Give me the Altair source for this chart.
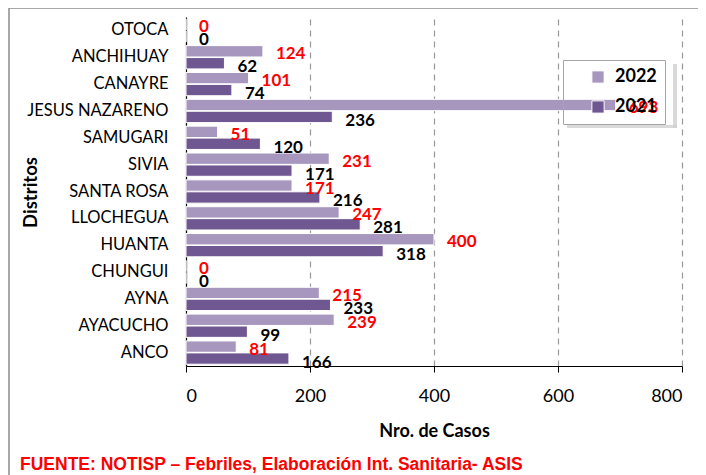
import altair as alt
import pandas as pd

districts = ["OTOCA", "ANCHIHUAY", "CANAYRE", "JESUS NAZARENO", "SAMUGARI", "SIVIA",
             "SANTA ROSA", "LLOCHEGUA", "HUANTA", "CHUNGUI", "AYNA", "AYACUCHO", "ANCO"]
cases_2022 = [0, 124, 101, 693, 51, 231, 171, 247, 400, 0, 215, 239, 81]
cases_2021 = [0, 62, 74, 236, 120, 171, 216, 281, 318, 0, 233, 99, 166]
years = ["2022", "2021"]
x_ticks = [0, 200, 400, 600, 800]

rows = []
for d, a, b in zip(districts, cases_2022, cases_2021):
    rows.append({"distrito": d, "year": "2022", "casos": a})
    rows.append({"distrito": d, "year": "2021", "casos": b})
df = pd.DataFrame(rows)

LIGHT = "#a797be"
DARK = "#6f5791"
W, H = 496, 349

y_enc = alt.Y("distrito:N", sort=districts,
              scale=alt.Scale(domain=districts, paddingInner=0, paddingOuter=0),
              axis=alt.Axis(title="Distritos", labelFont="Lato", labelFontSize=16.5,
                            labelColor="#000000", labelPadding=18, ticks=False,
                            domainColor="#000000", domainWidth=1.2, grid=False,
                            titleFont="Lato", titleFontSize=18.5, titleFontWeight="bold",
                            titleColor="#000000", titleAngle=270, titleX=-156, titleY=175,
                            titleAlign="center", titleBaseline="middle"))
yoff = alt.YOffset("year:N", sort=years,
                   scale=alt.Scale(domain=years, paddingOuter=0.15, paddingInner=0.05))
x_enc = alt.X("casos:Q",
              scale=alt.Scale(domain=[0, 800], nice=False),
              axis=alt.Axis(title="Nro. de Casos", values=x_ticks, labelFont="Lato",
                            labelFontSize=18, labelColor="#000000", labelPadding=15,
                            tickSize=6, tickColor="#000000", domainColor="#000000",
                            domainWidth=1.2, grid=True, gridColor="#999999",
                            gridDash=[6, 5], gridWidth=1.2,
                            titleFont="Lato", titleFontSize=18, titleFontWeight="bold",
                            titleColor="#000000", titleY=65, titleBaseline="middle"))

bars = alt.Chart(df).mark_bar(stroke="white", strokeWidth=1).encode(
    x=x_enc,
    y=y_enc,
    yOffset=yoff,
    color=alt.Color("year:N", sort=years,
                    scale=alt.Scale(domain=years, range=[LIGHT, DARK]),
                    legend=alt.Legend(title=None, orient="none", legendX=377, legendY=43,
                                      direction="vertical", padding=8, symbolOffset=18,
                                      symbolType="square", symbolSize=150,
                                      symbolStrokeColor="white", symbolStrokeWidth=1,
                                      labelFont="Lato", labelFontSize=18,
                                      labelFontWeight="bold", labelColor="#000000",
                                      labelOffset=8, rowPadding=12,
                                      strokeColor="#a6a6a6",
                                      labelExpr="datum.label + '     '")),
)

lab22 = alt.Chart(df).transform_filter(alt.datum.year == "2022").mark_text(
    align="left", baseline="middle", dx=13, dy=3, font="Lato", fontSize=17,
    fontWeight="bold", color="#ff0000"
).encode(x="casos:Q", y=alt.Y("distrito:N", sort=districts), yOffset=yoff,
         text="casos:Q")

lab21 = alt.Chart(df).transform_filter(alt.datum.year == "2021").mark_text(
    align="left", baseline="middle", dx=13, dy=4, font="Lato", fontSize=17,
    fontWeight="bold", color="#000000"
).encode(x="casos:Q", y=alt.Y("distrito:N", sort=districts), yOffset=yoff,
         text="casos:Q")

deco = pd.DataFrame([{"t": "FUENTE:  NOTISP – Febriles, Elaboración Int. Sanitaria- ASIS"}])
border = alt.Chart(deco).mark_rect(fillOpacity=0, stroke="#8c8c8c", strokeWidth=1.5).encode(
    x=alt.value(-177), x2=alt.value(700), y=alt.value(-9), y2=alt.value(600))
shadow_r = alt.Chart(deco).mark_rect(fill="#cfcfcf", opacity=0.8).encode(
    x=alt.value(487), x2=alt.value(491), y=alt.value(47), y2=alt.value(111))
shadow_b = alt.Chart(deco).mark_rect(fill="#cfcfcf", opacity=0.8).encode(
    x=alt.value(381), x2=alt.value(491), y=alt.value(108), y2=alt.value(111))
footer = alt.Chart(deco).mark_text(
    align="left", baseline="middle", font="Liberation Sans", fontSize=17.5,
    fontWeight="bold", color="#ff0000"
).encode(x=alt.value(-166), y=alt.value(448), text="t:N")

chart = alt.layer(border, shadow_r, shadow_b, bars, lab22, lab21, footer).properties(
    width=W, height=H,
    autosize=alt.AutoSizeParams(type="none"),
    padding={"left": 178, "top": 9, "right": 16, "bottom": 109},
    background="white",
).configure_view(strokeOpacity=0)

chart.save("out.html", embed_options={"renderer": "svg", "actions": False})
